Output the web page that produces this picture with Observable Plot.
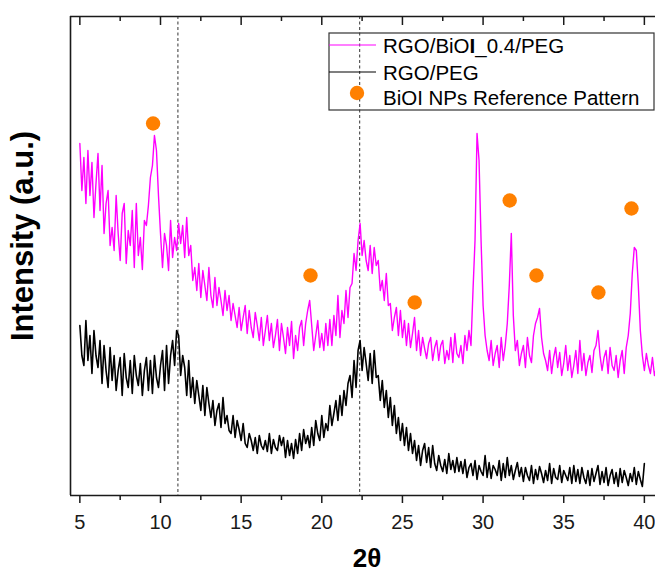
<!DOCTYPE html>
<html><head><meta charset="utf-8">
<script src="https://cdn.jsdelivr.net/npm/d3@7"></script>
<script src="https://cdn.jsdelivr.net/npm/@observablehq/plot@0.6"></script>
<style>body{margin:0;background:#fff} svg{display:block}</style>
</head><body><div id="chart"></div>
<script>
// ---- data ----
const seriesNames = ["RGO/BiOI_0.4/PEG", "RGO/PEG"];
const refLabel = "BiOI NPs Reference Pattern";
const xLabel = "2θ";
const yLabel = "Intensity (a.u.)";
const xStart = 5, xStep = 0.125; // 2θ sampling of the read-off values

// RGO/BiOI_0.4/PEG intensity (a.u.)
const magentaI = [
 352,305,338,292,345,
 300,333,278,312,342,285,
 330,262,292,305,250,268,
 245,300,262,235,282,292,
 232,265,250,285,228,292,240,258,226,275,
 270,290,318,330,360,345,300,262,
 228,262,250,225,275,238,258,
 245,272,252,270,238,278,
 240,250,215,228,205,232,
 198,225,210,195,228,200,188,218,
 190,208,195,180,205,185,200,
 175,192,180,168,188,165,178,190,162,185,
 168,158,183,170,155,178,150,165,180,155,
 172,148,160,176,145,172,158,142,168,150,174,137,160,
 145,168,175,150,172,
 185,195,170,145,
 160,175,148,162,145,172,150,
 176,150,180,160,200,158,
 185,172,205,178,208,
 212,242,225,255,272,240,
 255,235,225,250,222,248,
 230,235,205,215,195,222,
 190,192,165,178,188,160,185,
 158,175,150,172,148,162,178,145,
 165,140,158,147,137,152,158,135,148,155,135,
 150,155,132,145,136,158,133,162,142,138,150,132,
 160,145,165,150,
 205,255,362,335,255,190,160,
 145,135,155,130,142,150,128,158,135,150,
 172,210,262,180,145,
 155,130,142,150,128,158,140,133,160,
 172,178,187,158,142,
 135,125,145,122,138,148,128,143,120,132,150,125,140,118,130,145,122,155,125,142,120,133,140,123,145,
 150,165,140,
 125,138,145,122,148,130,125,140,118,135,145,122,148,
 160,182,222,248,245,210,165,140,
 125,142,130,122,138,120,128
];

// RGO/PEG intensity (a.u.)
const blackI = [
 170,140,130,175,
 135,160,122,165,140,
 128,155,112,150,125,108,148,115,
 140,105,125,138,100,142,118,108,135,102,140,120,
 110,132,100,125,138,105,135,102,140,118,
 108,130,145,105,150,112,140,
 155,130,165,
 160,120,140,128,100,135,
 98,118,92,115,100,85,110,80,108,92,
 78,95,70,85,92,68,98,72,80,
 65,62,80,58,75,66,55,72,
 52,48,62,55,45,58,42,60,50,46,55,44,62,42,56,48,45,
 60,50,58,38,55,40,52,37,
 56,42,62,45,66,52,60,
 48,68,50,75,62,55,80,58,72,
 65,90,70,82,95,75,100,80,
 105,90,112,120,98,135,108,145,155,
 125,148,132,115,142,112,145,
 118,120,95,115,88,105,78,98,70,90,
 62,78,55,72,50,68,45,62,
 42,55,35,50,30,45,52,33,48,28,50,
 32,25,40,30,24,36,22,42,26,35,23,38,24,
 34,22,36,18,28,32,20,35,16,30,24,20,40,18,33,17,30,26,20,35,15,32,18,38,20,
 30,16,25,33,19,28,14,28,20,15,30,12,26,16,29,22,13,25,15,32,12,27,18,16,30,
 13,25,20,15,28,12,30,14,26,12,28,18,12,25,10,27,14,22,30,11,
 24,13,28,10,20,26,12,23,9,27,13,25,18,10,22,14,28,11,24,16,9,32
];

// BiOI reference pattern markers
const refX = [9.54, 19.30, 25.76, 31.65, 33.31, 37.15, 39.20];
const refI = [372, 220, 193, 295, 220, 203, 287];

// guide lines
const dashedX = [11.08, 22.35];

// axis ticks
const majorTicks = [5, 10, 15, 20, 25, 30, 35, 40];
const minorTicks = [7.5, 12.5, 17.5, 22.5, 27.5, 32.5, 37.5];

// ---- build tables ----
const magenta = magentaI.map((v, i) => ({x: xStart + i * xStep, y: v}));
const black = blackI.map((v, i) => ({x: xStart + i * xStep, y: v}));
const refs = refX.map((x, i) => ({x, y: refI[i]}));

const xDomain = [4.42, 40.69];
const yDomain = [0, 479];
const frameColor = "#1a1a1a";

const chart = Plot.plot({
  width: 655, height: 573,
  marginLeft: 70, marginRight: 0, marginTop: 16, marginBottom: 78,
  x: {domain: xDomain},
  y: {domain: yDomain, axis: null},
  style: {fontFamily: "'Liberation Sans Narrow', 'Arial Narrow', 'Liberation Sans', sans-serif", background: "#fff", color: frameColor},
  marks: [
    Plot.ruleX(dashedX, {stroke: "#333", strokeWidth: 1, strokeDasharray: "3,2.5"}),
    Plot.line(black, {x: "x", y: "y", stroke: "#000", strokeWidth: 1.6}),
    Plot.line(magenta, {x: "x", y: "y", stroke: "#ff00ff", strokeWidth: 1.4}),
    Plot.dot(refs, {x: "x", y: "y", r: 7.2, fill: "#ff8000", stroke: "none"}),
    Plot.ruleY([yDomain[0]], {stroke: frameColor, strokeWidth: 1.6}),
    Plot.ruleY([yDomain[1]], {stroke: frameColor, strokeWidth: 1.6}),
    Plot.ruleX([xDomain[0]], {stroke: frameColor, strokeWidth: 1.6}),
    Plot.ruleX(majorTicks, {y1: yDomain[1], y2: yDomain[1] - 9, stroke: frameColor, strokeWidth: 1.5}),
    Plot.ruleX(minorTicks, {y1: yDomain[1], y2: yDomain[1] - 5, stroke: frameColor, strokeWidth: 1.5}),
    Plot.axisX({ticks: majorTicks, tickSize: 8, tickPadding: 11, fontSize: 20, label: null, tickFormat: d => String(d), strokeWidth: 1.5}),
    Plot.axisX({ticks: minorTicks, tickSize: 5, tickFormat: () => "", label: null, strokeWidth: 1.5})
  ]
});

document.getElementById("chart").appendChild(chart);

const svg = d3.select(chart);
// axis titles
svg.append("text").text(xLabel)
  .attr("x", 367).attr("y", 567).attr("text-anchor", "middle")
  .attr("font-family", "'Liberation Sans', Arial, sans-serif").attr("font-weight", "bold").attr("font-size", 26).attr("fill", "#000");
svg.append("text").text(yLabel)
  .attr("transform", "translate(33,236) rotate(-90)").attr("text-anchor", "middle")
  .attr("font-family", "'Liberation Sans', Arial, sans-serif").attr("font-weight", "bold").attr("font-size", 31).attr("fill", "#000");

// legend
const lg = svg.append("g").attr("font-family", "'Liberation Sans', Arial, sans-serif").attr("font-size", 20.5)
  .attr("fill", "#000").attr("text-anchor", "start");
lg.append("rect").attr("x", 329).attr("y", 33).attr("width", 325).attr("height", 77)
  .attr("fill", "none").attr("stroke", "#333").attr("stroke-width", 1.2);
lg.append("line").attr("x1", 329).attr("x2", 376).attr("y1", 45).attr("y2", 45).attr("stroke", "#ff00ff").attr("stroke-width", 1.2);
lg.append("line").attr("x1", 329).attr("x2", 376).attr("y1", 72).attr("y2", 72).attr("stroke", "#000").attr("stroke-width", 1.2);
lg.append("circle").attr("cx", 357).attr("cy", 93).attr("r", 7.2).attr("fill", "#ff8000");
const t1 = lg.append("text").attr("x", 383).attr("y", 53).attr("text-anchor", "start");
const parts = seriesNames[0].split("BiOI");
t1.append("tspan").text(parts[0] + "BiO");
t1.append("tspan").attr("font-weight", "bold").text("I");
t1.append("tspan").text(parts[1]);
lg.append("text").attr("x", 383).attr("y", 80).attr("text-anchor", "start").text(seriesNames[1]);
lg.append("text").attr("x", 383).attr("y", 105).attr("text-anchor", "start").text(refLabel);
</script>
</body></html>
